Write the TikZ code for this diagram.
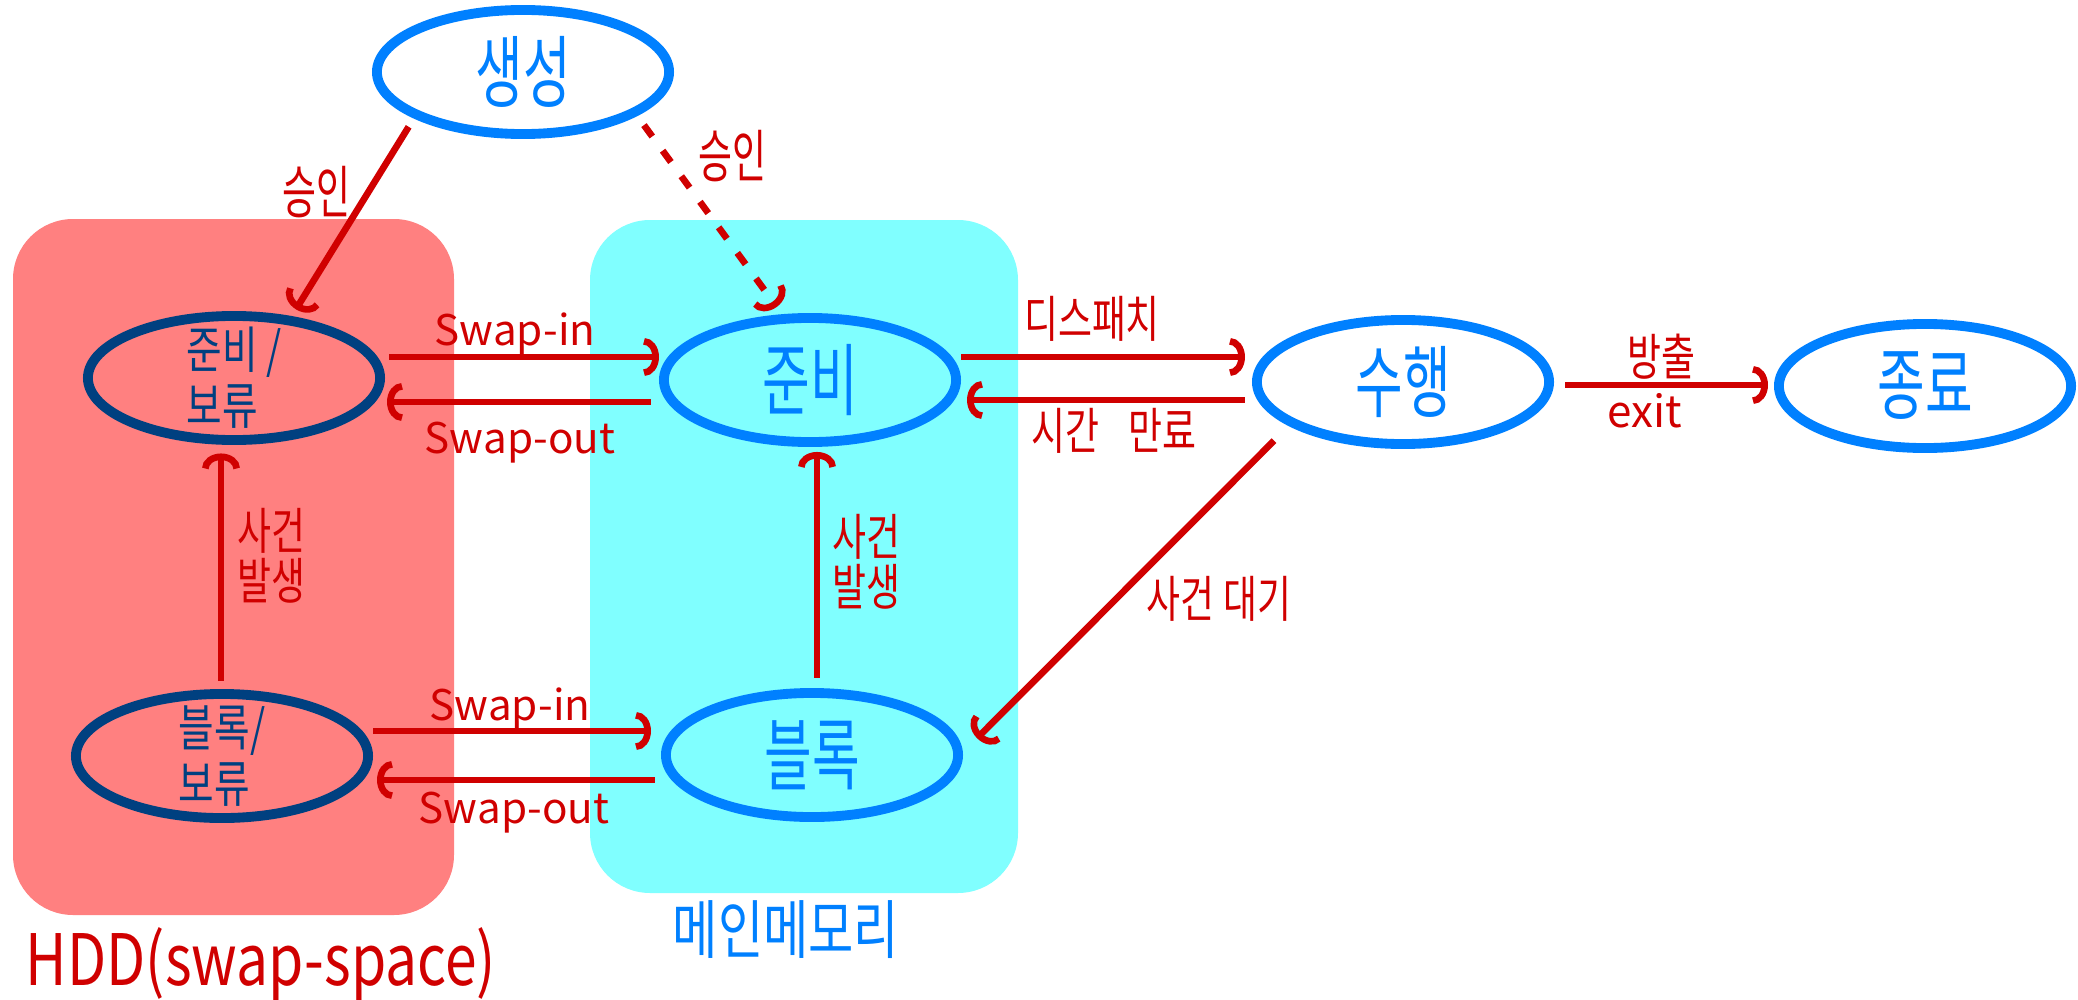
\documentclass[tikz,border=0pt]{standalone}
\usepackage{fontspec}
\usepackage{graphicx}
\setmainfont{Noto Sans CJK KR}
\usetikzlibrary{shapes.geometric,arrows.meta}
\definecolor{hddred}{HTML}{FF8080}
\definecolor{memcyan}{HTML}{80FFFF}
\definecolor{arrred}{HTML}{D00000}
\definecolor{stblue}{HTML}{0080FF}
\definecolor{stdark}{HTML}{004080}
\newcommand{\tallk}[1]{\scalebox{1}[1.35]{#1}}
\newcommand{\tallst}[1]{\scalebox{0.92}[1.4]{#1}}
\newcommand{\tallhd}[1]{\scalebox{1}[1.3]{#1}}
\begin{document}
\begin{tikzpicture}[x=0.01cm,y=-0.01cm,
  state/.style={ellipse, draw=stblue, line width=2.8pt, inner sep=-10pt, text=stblue,
    font=\fontsize{16}{18}\selectfont, minimum width=2.92cm, minimum height=1.24cm},
  hddstate/.style={state, draw=stdark, text=stdark, align=left,
    font=\fontsize{11}{16}\selectfont},
  arr/.style={draw=arrred, line width=1.9pt, -{Arc Barb[width=3.8mm,length=1.5mm]}},
  lbl/.style={text=arrred, inner sep=0pt, align=center, font=\fontsize{12}{14}\selectfont},
  klbl/.style={lbl, font=\fontsize{10.5}{14.2}\selectfont}]
\useasboundingbox (0,0) rectangle (2078,1000);
% regions
\fill[hddred, rounded corners=0.6cm] (13,219) rectangle (454,915);
\fill[memcyan, rounded corners=0.6cm] (590,220) rectangle (1018,893);
% states
\node[state] (gen) at (523,72) {\tallst{생성}};
\node[hddstate] (rb) at (234,378) {\tallhd{준비 /}\\\tallhd{보류}};
\node[state] (r) at (810,380) {\tallst{준비}};
\node[state] (s) at (1403,382) {\tallst{수행}};
\node[state] (t) at (1925,386) {\tallst{종료}};
\node[hddstate] (bb) at (222,756) {\tallhd{블록/}\\\tallhd{보류}};
\node[state] (b) at (812,755) {\tallst{블록}};
% helper coordinates
\coordinate (hSwInTop) at (0,357);
\coordinate (hSwOutTop) at (0,402);
\coordinate (hDisp) at (0,357);
\coordinate (hTime) at (0,400);
\coordinate (hExit) at (0,385);
\coordinate (hSwInBot) at (0,731);
\coordinate (hSwOutBot) at (0,780);
\coordinate (vLeft) at (221,0);
\coordinate (vRight) at (817,0);
% connectors
\draw[arr, shorten <=0.1cm, shorten >=0.08cm] (gen.203) -- (rb.47);
\draw[arr, dash pattern=on 4pt off 5pt, shorten <=0.115cm, shorten >=0.09cm] (gen.339) -- (r.113);
\draw[arr, shorten <=0.04cm] (rb.east |- hSwInTop) -- (r.west |- hSwInTop);
\draw[arr, shorten <=0.08cm, shorten >=0.02cm] (r.west |- hSwOutTop) -- (rb.east |- hSwOutTop);
\draw[arr, shorten >=0.07cm] (r.east |- hDisp) -- (s.west |- hDisp);
\draw[arr, shorten <=0.07cm, shorten >=0.06cm] (s.west |- hTime) -- (r.east |- hTime);
\draw[arr, shorten <=0.11cm, shorten >=0.06cm] (s.east |- hExit) -- (t.west |- hExit);
\draw[arr, shorten >=0.1cm] (bb.east |- hSwInBot) -- (b.west |- hSwInBot);
\draw[arr, shorten <=0.06cm, shorten >=0.04cm] (b.west |- hSwOutBot) -- (bb.east |- hSwOutBot);
\draw[arr, shorten <=0.085cm, shorten >=0.085cm] (vLeft |- bb.north) -- (vLeft |- rb.south);
\draw[arr, shorten <=0.105cm, shorten >=0.05cm] (vRight |- b.north) -- (vRight |- r.south);
\draw[arr, shorten <=0.21cm, shorten >=0.2cm] (s.201) -- (b.1);
% labels
\node[klbl] (lApproveL) at (316,192) {\scalebox{1}[1.55]{승인}};
\node[klbl] (lApproveR) at (732,156) {\scalebox{1}[1.55]{승인}};
\node[lbl, anchor=base] (lSwInTop) at (515,345) {Swap-in};
\node[lbl, anchor=base] (lSwOutTop) at (520,453) {Swap-out};
\node[klbl] (lDisp) at (1092,319) {\tallk{디스패치}};
\node[klbl] (lTime) at (1114,431) {\tallk{시간\hspace{0.8em}만료}};
\node[klbl] (lExitK) at (1661,357) {\tallk{방출}};
\node[lbl, anchor=base, font=\fontsize{12.5}{14}\selectfont] (lExit) at (1645,427) {exit};
\node[klbl] (lWait) at (1219,599) {\tallk{사건 대기}};
\node[klbl] (lOccL) at (271,556) {\tallk{사건}\\\tallk{발생}};
\node[klbl] (lOccR) at (866,562) {\tallk{사건}\\\tallk{발생}};
\node[lbl, anchor=base] (lSwInBot) at (510,720) {Swap-in};
\node[lbl, anchor=base] (lSwOutBot) at (514,823) {Swap-out};
% region titles
\node[anchor=base, inner sep=0pt, text=arrred, font=\fontsize{18}{20}\selectfont] (hdd) at (261,985) {\scalebox{0.9}[1.12]{HDD(swap-space)}};
\node[text=stblue, inner sep=0pt, font=\fontsize{14}{16}\selectfont] (mem) at (786,930) {\scalebox{1}[1.3]{메인메모리}};
\end{tikzpicture}
\end{document}
